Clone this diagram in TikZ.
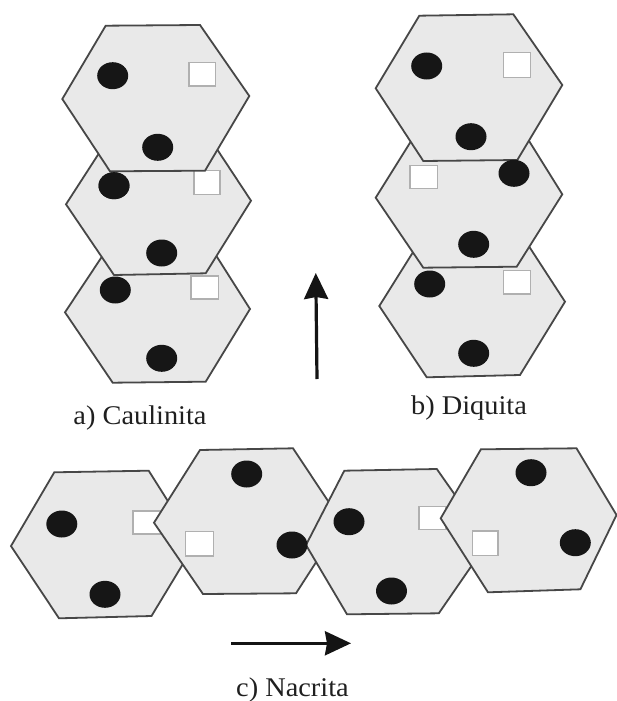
\documentclass[tikz,border=0pt]{standalone}
\usepackage{fontspec}
\setmainfont{Liberation Serif}
\usetikzlibrary{arrows.meta}
\definecolor{hexfill}{HTML}{E9E9E9}
\definecolor{hexline}{HTML}{474747}
\definecolor{sqline}{HTML}{B0B0B0}
\definecolor{dotfill}{HTML}{161616}
\tikzset{
  hexa/.style={draw=hexline,fill=hexfill,line width=1.8pt,line join=miter},
  sq/.style={draw=sqline,fill=white,line width=1.4pt},
  dotb/.style={fill=dotfill,draw=none},
  caption/.style={font=\fontsize{27}{30}\selectfont,text=black!88,inner sep=0pt,anchor=base,xscale=1.05},
  flow/.style={line width=3.2pt,draw=black!92,-{Stealth[inset=2pt,length=26pt,width=24pt]}}
}
\newcommand{\hx}[6]{\path[hexa] #1 -- #2 -- #3 -- #4 -- #5 -- #6 -- cycle;}
\newcommand{\dt}[2]{\path[dotb] (#1,#2) ellipse [x radius=15.5,y radius=13.5];}
\newcommand{\sqr}[4]{\path[sq] (#1,#2) rectangle (#3,#4);}
\begin{document}
\begin{tikzpicture}[x=1pt,y=-1pt]
\useasboundingbox (0,0) rectangle (617,701);
\fill[white] (0,0) rectangle (617,701);
% a) Caulinita
\hx{(113,240)}{(205,238)}{(250,309)}{(205.7,381.7)}{(112.7,382.7)}{(65,312.3)}
\sqr{191}{276}{218.3}{299}
\dt{115.3}{290} \dt{161.7}{358.3}
\hx{(114,130)}{(203,128)}{(251,200.7)}{(205.7,273.3)}{(114,275)}{(66,204.3)}
\sqr{194}{170.7}{220}{194.3}
\dt{114}{185.7} \dt{161.7}{253}
\hx{(105.7,25.7)}{(200,25)}{(249.3,96)}{(205,170.7)}{(110,171.3)}{(62.3,99)}
\sqr{189}{62.7}{215.7}{86}
\dt{112.7}{75.7} \dt{157.7}{147.3}
\dt{114}{185.7}
% b) Diquita
\hx{(425,233)}{(519,231)}{(565,301.7)}{(520,375)}{(426.7,377.3)}{(379.3,306)}
\sqr{503.3}{270.7}{530.7}{294}
\dt{429.7}{284} \dt{473.7}{353.3}
\hx{(423,122)}{(516,120)}{(562.3,194.3)}{(516.7,266.7)}{(423.3,267.7)}{(375.7,197.7)}
\sqr{410}{165.7}{437.3}{188.3}
\dt{473.7}{244.3}
\hx{(419.3,15.7)}{(513.3,14.3)}{(562.3,85)}{(517.3,160)}{(423.3,161)}{(375.7,88.3)}
\sqr{503.3}{52.7}{530.7}{77.3}
\dt{426.7}{66} \dt{471}{136.7}
\dt{514}{173.3}
% c) Nacrita
\hx{(54.3,472.3)}{(148.7,470.7)}{(195,544)}{(151.5,616)}{(59,618.3)}{(11,546)}
\sqr{133}{511}{162}{534}
\dt{61.8}{524} \dt{105}{594.3}
\hx{(200,450)}{(293,448.3)}{(342,522)}{(296,593.3)}{(203,594)}{(154,522.7)}
\sqr{185.7}{531.7}{213.7}{556}
\dt{246.7}{474}
\hx{(344.3,470.7)}{(436.8,469)}{(488,542)}{(438.8,613.3)}{(347,614.3)}{(306,545)}
\sqr{419}{506.7}{446}{529.3}
\dt{349}{521.7} \dt{391.5}{591}
\dt{292}{545}
\hx{(480.9,449.3)}{(576.5,448.3)}{(616.5,515)}{(580.4,589.3)}{(488,592.3)}{(440.7,518.3)}
\sqr{472.2}{531}{497.8}{555.7}
\dt{531}{472.7} \dt{575.3}{542.7}
% arrows
\coordinate (upfrom) at (317,379);
\coordinate (upto) at (315.8,273);
\coordinate (rightfrom) at (231,643.3);
\coordinate (rightto) at (351,643.3);
\draw[flow] (upfrom) -- (upto);
\draw[flow] (rightfrom) -- (rightto);
% captions
\node[caption] (ca) at (140,424) {a) Caulinita};
\node[caption] (cb) at (469,414) {b) Diquita};
\node[caption] (cc) at (292.5,696.5) {c) Nacrita};
\end{tikzpicture}
\end{document}
